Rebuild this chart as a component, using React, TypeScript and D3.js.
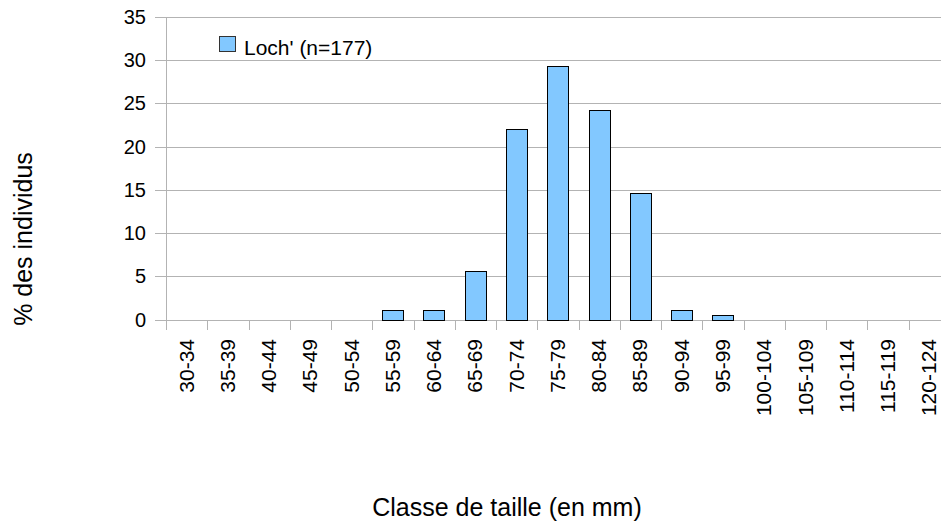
import React from "react";
import * as d3 from "d3";

const categories = [
  "30-34", "35-39", "40-44", "45-49", "50-54", "55-59", "60-64", "65-69",
  "70-74", "75-79", "80-84", "85-89", "90-94", "95-99", "100-104",
  "105-109", "110-114", "115-119", "120-124",
];
const values = [0, 0, 0, 0, 0, 1.13, 1.13, 5.65, 22.03, 29.38, 24.29, 14.69, 1.13, 0.56, 0, 0, 0, 0, 0];
const yTicks = [0, 5, 10, 15, 20, 25, 30, 35];
const seriesName = "Loch' (n=177)";
const xTitle = "Classe de taille (en mm)";
const yTitle = "% des individus";

const W = 941;
const H = 523;
const FONT = "'Liberation Sans', Arial, sans-serif";

export default function App() {
  const x0 = 166;
  const step = 41.26;
  const x = d3.scaleBand<string>().domain(categories).range([x0, x0 + step * categories.length]).padding(0);
  const y = d3.scaleLinear().domain([0, 35]).range([319.5, 17]);
  const barFrac = 0.52;
  const grid = "#b3b3b3";

  return (
    <svg width={W} height={H} style={{ position: "absolute", left: 0, top: 0, background: "#fff" }} fontFamily={FONT}>
      <rect x={0} y={0} width={W} height={H} fill="#fff" />
      {/* horizontal gridlines */}
      {yTicks.map((t) => (
        <line key={"g" + t} x1={155} x2={W} y1={Math.round(y(t)) + 0.5} y2={Math.round(y(t)) + 0.5} stroke={grid} strokeWidth={1} />
      ))}
      {/* y axis line */}
      <line x1={x0 + 0.5} x2={x0 + 0.5} y1={Math.round(y(35))} y2={330} stroke={grid} strokeWidth={1} />
      {/* x tick marks */}
      {categories.map((c) => (
        <line key={"t" + c} x1={Math.round(x(c)!) + 0.5} x2={Math.round(x(c)!) + 0.5} y1={Math.round(y(0))} y2={330} stroke={grid} strokeWidth={1} />
      ))}
      {/* y tick labels */}
      {yTicks.map((t) => (
        <text key={"l" + t} x={146} y={y(t)} dy="0.35em" textAnchor="end" fontSize={20} fill="#000">
          {t}
        </text>
      ))}
      {/* bars */}
      {categories.map((c, i) => {
        const v = values[i];
        if (v <= 0) return null;
        const bw = x.bandwidth() * barFrac;
        const bx = x(c)! + (x.bandwidth() - bw) / 2;
        const top = y(v);
        return (
          <rect key={"b" + c} x={Math.round(bx) + 0.5} y={Math.round(top) + 0.5} width={Math.round(bw)} height={Math.round(y(0)) - Math.round(top)} fill="#82c8ff" stroke="#000" strokeWidth={1} />
        );
      })}
      {/* x labels */}
      {categories.map((c) => {
        const cx = x(c)! + x.bandwidth() / 2;
        return (
          <text key={"x" + c} transform={`translate(${cx + 7},339) rotate(-90)`} textAnchor="end" fontSize={21} fill="#000">
            {c}
          </text>
        );
      })}
      {/* legend */}
      <rect x={219.5} y={36.5} width={16} height={15} fill="#82c8ff" stroke="#333" strokeWidth={1} />
      <text x={244} y={55} fontSize={21} fill="#000">{seriesName}</text>
      {/* axis titles */}
      <text x={507} y={516} textAnchor="middle" fontSize={25} fill="#000">{xTitle}</text>
      <text transform="translate(32,239) rotate(-90)" textAnchor="middle" fontSize={25} fill="#000">{yTitle}</text>
    </svg>
  );
}
